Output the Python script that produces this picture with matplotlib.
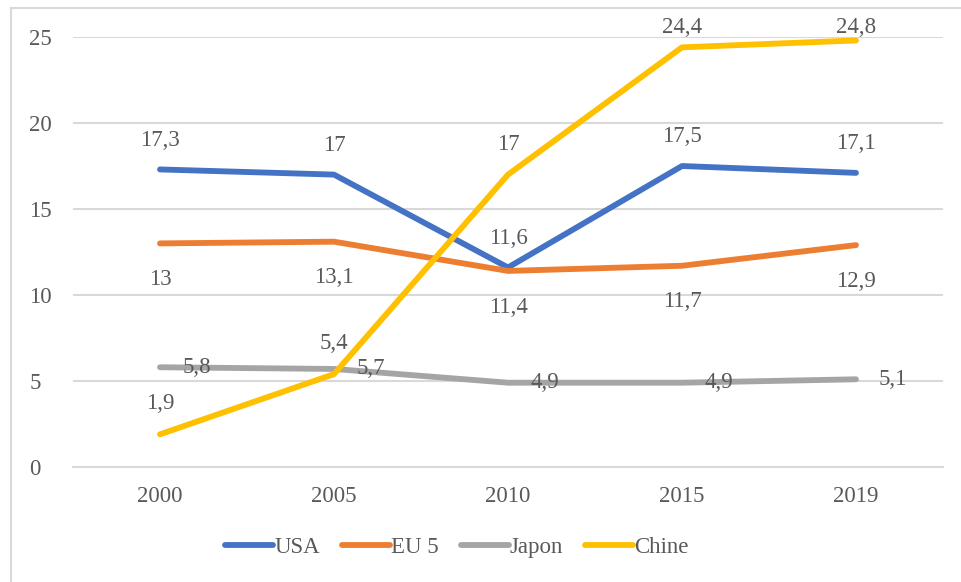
import matplotlib
matplotlib.use("Agg")
import matplotlib.pyplot as plt
from matplotlib.lines import Line2D

years = ["2000", "2005", "2010", "2015", "2019"]
usa = [17.3, 17.0, 11.6, 17.5, 17.1]
eu5 = [13.0, 13.1, 11.4, 11.7, 12.9]
japon = [5.8, 5.7, 4.9, 4.9, 5.1]
chine = [1.9, 5.4, 17.0, 24.4, 24.8]
yticks = [0, 5, 10, 15, 20, 25]

txt = "#595959"
fs = 16.5
plt.rcParams['font.family'] = ['Liberation Serif', 'DejaVu Serif']

fig = plt.figure(figsize=(9.61, 5.82), dpi=100)
ax = fig.add_axes([73/961, 1 - 467/582, 870/961, 430/582])

x = list(range(len(years)))
series = [("USA", usa, "#4472C4"), ("EU 5", eu5, "#ED7D31"),
          ("Japon", japon, "#A5A5A5"), ("Chine", chine, "#FFC000")]
for name, vals, col in series:
    ax.plot(x, vals, color=col, lw=4.2, solid_capstyle='round',
            solid_joinstyle='round', label=name)

def fmt(v):
    s = "%g" % v
    return s.replace(".", ",")

lab = dict(fontsize=fs, color=txt)
for i, v in enumerate(usa):
    ax.annotate(fmt(v), (i, v), xytext=(0, 21), textcoords='offset points',
                ha='center', va='center', **lab)
for i, v in enumerate(eu5):
    ax.annotate(fmt(v), (i, v), xytext=(0, -26), textcoords='offset points',
                ha='center', va='center', **lab)
for i, v in enumerate(japon):
    ax.annotate(fmt(v), (i, v), xytext=(16, 0), textcoords='offset points',
                ha='left', va='center', **lab)
for i, v in enumerate(chine):
    if v > 22:
        # Excel keeps these inside the chart area
        ax.text(i, 1.022, fmt(v), transform=ax.get_xaxis_transform(),
                ha='center', va='center', **lab)
    else:
        ax.annotate(fmt(v), (i, v), xytext=(0, 22), textcoords='offset points',
                    ha='center', va='center', **lab)

ax.set_xlim(-0.5, len(years) - 0.5)
ax.set_ylim(0, 25)
ax.set_yticks(yticks)
ax.set_xticks(x)
ax.set_xticklabels(years)
ax.yaxis.grid(True, color="#D9D9D9", lw=1.5)
ax.set_axisbelow(True)
for s in ax.spines.values():
    s.set_visible(False)
ax.spines['bottom'].set_visible(True)
ax.spines['bottom'].set_color("#D9D9D9")
ax.spines['bottom'].set_linewidth(1.5)
ax.tick_params(length=0, labelsize=fs, labelcolor=txt)
ax.tick_params(axis='y', pad=31.5)
ax.tick_params(axis='x', pad=14)
for t in ax.get_yticklabels():
    t.set_horizontalalignment('left')

leg = fig.legend(loc='center', bbox_to_anchor=(457/961, 1 - 547/582), ncol=4,
                 frameon=False, fontsize=fs, handlelength=2.1, handletextpad=0.05,
                 columnspacing=0.95)
for t in leg.get_texts():
    t.set_color(txt)
for h in leg.get_lines():
    h.set_linewidth(4.2)
    h.set_solid_capstyle('round')

# chart frame (only left and top edges are visible in the crop)
fig.add_artist(Line2D([11/961, 11/961], [0, 1 - 8/582], color="#D9D9D9", lw=1.5))
fig.add_artist(Line2D([11/961, 1], [1 - 8/582, 1 - 8/582], color="#D9D9D9", lw=1.5))

fig.savefig("out.png", dpi=100)
